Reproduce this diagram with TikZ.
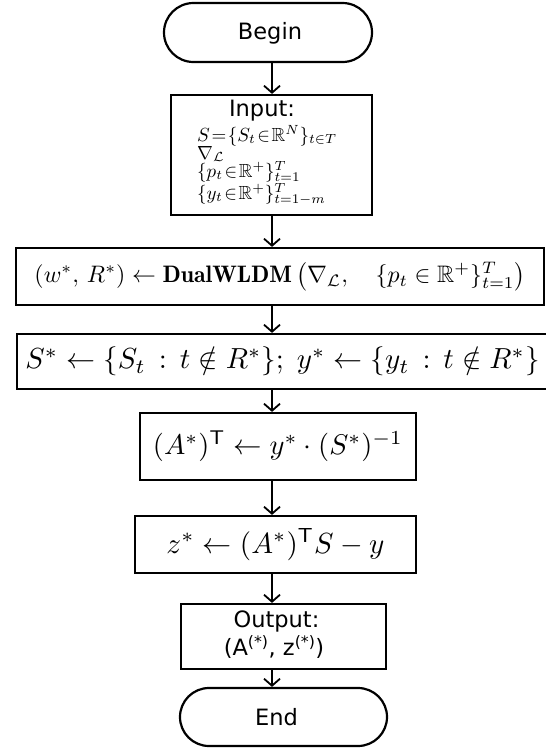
\documentclass[tikz,border=0pt]{standalone}
\usepackage{fontspec}
\usepackage{amsmath,amssymb}
\usepackage{graphicx}
\newfontfamily\dejavu{DejaVu Sans}
\usetikzlibrary{arrows.meta,shapes.misc}
\newcommand\inmath[1]{\scalebox{\insc}{\thickmuskip=1.5mu\medmuskip=2mu$#1$}}
\begin{document}
\begin{tikzpicture}[x=1pt,y=-1pt,
  box/.style={draw,line width=2.2pt,inner sep=0pt,rectangle},
  term/.style={draw,line width=2.2pt,inner sep=0pt,rounded rectangle},
  lbl/.style={inner sep=0pt,font=\dejavu\fontsize{22.5}{28}\selectfont},
  inl/.style={inner sep=0pt,anchor=base west},
  arr/.style={line width=1.8pt,-{Straight Barb[length=7pt,width=16pt]}}]
\useasboundingbox (0,0) rectangle (546,748);
\setbox0=\hbox{\thickmuskip=1.5mu\medmuskip=2mu$S=\{S_t\in\mathbb{R}^N\}_{t\in T}$}
\pgfmathsetmacro{\insc}{140/\wd0}
\coordinate (ax) at (272,0);
% terminals
\node[term,minimum width=208pt,minimum height=59pt] (begin) at (268,32.5) {};
\node[lbl,anchor=base] (begintxt) at (270,39) {Begin};
\node[term,minimum width=207pt,minimum height=58pt] (end) at (283.5,717) {};
\node[lbl,anchor=base] (endtxt) at (276.5,725) {End};
% input
\node[box,minimum width=201pt,minimum height=120pt] (input) at (271.5,155) {};
\node[lbl,anchor=base] (inputtxt) at (262,116) {Input:};
\node[inl] (in1) at (197,141) {\inmath{S=\{S_t\in\mathbb{R}^N\}_{t\in T}}};
\node[inl] (in2) at (197,159) {\inmath{\nabla_{\mathcal{L}}}};
\node[inl] (in3) at (197,177) {\inmath{\{p_t\in\mathbb{R}^+\}_{t=1}^{T}}};
\node[inl] (in4) at (197,199) {\inmath{\{y_t\in\mathbb{R}^+\}_{t=1-m}^{T}}};
% process boxes
\node[box,minimum width=528pt,minimum height=57pt] (dual) at (280,276.5)
  {\resizebox{491pt}{!}{$(w^*,\,R^*)\leftarrow\mathbf{DualWLDM}\left(\nabla_{\mathcal{L}},\quad\{p_t\in\mathbb{R}^+\}_{t=1}^{T}\right)$}};
\node[box,minimum width=531pt,minimum height=55pt] (sel) at (282.5,361.5)
  {\resizebox{514pt}{!}{$S^*\leftarrow\{S_t\,:\,t\notin R^*\};\;y^*\leftarrow\{y_t\,:\,t\notin R^*\}$}};
\node[box,minimum width=276pt,minimum height=67pt] (amat) at (278,446.5)
  {\resizebox{250pt}{!}{$(A^*)^{\mathsf{T}}\leftarrow y^*\cdot(S^*)^{-1}$}};
\node[box,minimum width=281pt,minimum height=57pt] (zvec) at (275.5,544.5)
  {\resizebox{218pt}{!}{$z^*\leftarrow(A^*)^{\mathsf{T}}S-y$}};
% output
\node[box,minimum width=205pt,minimum height=65pt] (output) at (283.5,636.5) {};
\node[lbl,anchor=base] (outtxt1) at (276.5,627) {Output:};
\node[lbl,anchor=base] (outtxt2) at (274,655) {(A\textsuperscript{(*)}, z\textsuperscript{(*)})};
% connectors
\draw[arr] (begin.south -| ax) -- (input.north -| ax);
\draw[arr] (input.south -| ax) -- (dual.north -| ax);
\draw[arr] (dual.south -| ax) -- (sel.north -| ax);
\draw[arr] (sel.south -| ax) -- (amat.north -| ax);
\draw[arr] (amat.south -| ax) -- (zvec.north -| ax);
\draw[arr] (zvec.south -| ax) -- (output.north -| ax);
\draw[arr] (output.south -| ax) -- (end.north -| ax);
\end{tikzpicture}
\end{document}
